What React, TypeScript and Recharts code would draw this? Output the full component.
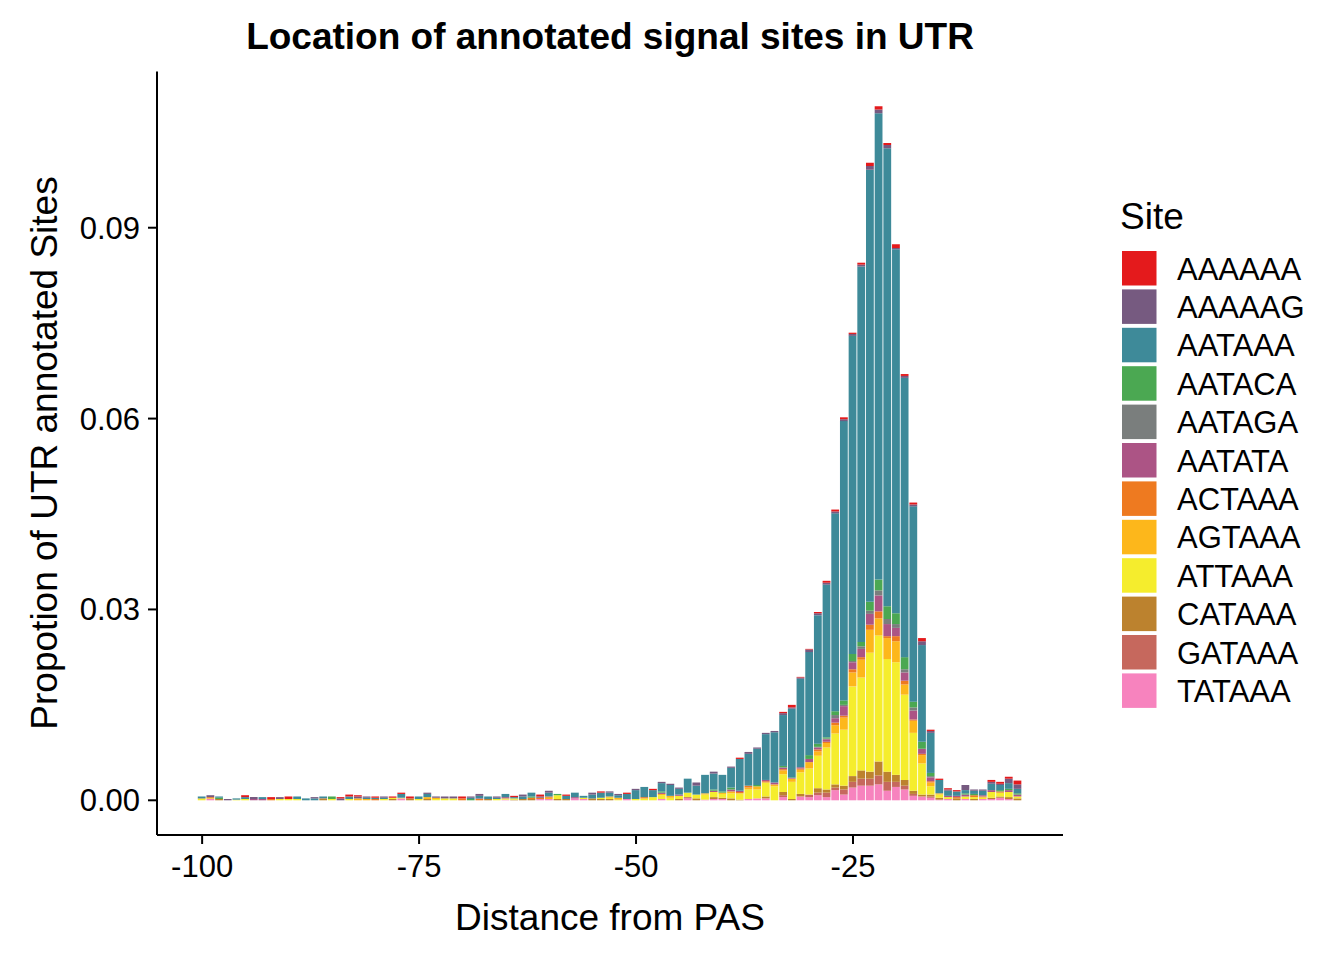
import React from "react";
import { Bar, BarChart, XAxis, YAxis } from "recharts";

// valores, en unidades de 0.0001 (proporción de sitios)
const UNIT = 1e-4;

const DISTANCE = [
  -100, -99, -98, -97, -96, -95, -94, -93, -92, -91,
  -90, -89, -88, -87, -86, -85, -84, -83, -82, -81,
  -80, -79, -78, -77, -76, -75, -74, -73, -72, -71,
  -70, -69, -68, -67, -66, -65, -64, -63, -62, -61,
  -60, -59, -58, -57, -56, -55, -54, -53, -52, -51,
  -50, -49, -48, -47, -46, -45, -44, -43, -42, -41,
  -40, -39, -38, -37, -36, -35, -34, -33, -32, -31,
  -30, -29, -28, -27, -26, -25, -24, -23, -22, -21,
  -20, -19, -18, -17, -16, -15, -14, -13, -12, -11,
  -10, -9, -8, -7, -6,
];

const AAAAAA = [
  0, 0, 0, 0, 0, 3, 0, 0, 3, 0,
  4, 0, 0, 0, 0, 0, 2, 3, 2, 0,
  2, 0, 2, 2, 3, 0, 0, 0, 0, 0,
  3, 0, 0, 0, 0, 0, 2, 0, 0, 3,
  0, 0, 2, 0, 0, 0, 2, 0, 0, 2,
  0, 0, 2, 0, 0, 0, 0, 0, 0, 0,
  0, 0, 2, 0, 0, 0, 0, 2, 4, 1,
  1, 2, 3, 3, 3, 2, 3, 5, 5, 3,
  6, 3, 3, 5, 2, 2, 2, 2, 0, 0,
  0, 3, 3, 3, 6,
];
const AAAAAG = [
  0, 3, 0, 2, 0, 0, 3, 0, 0, 3,
  0, 0, 0, 2, 0, 0, 3, 0, 3, 2,
  0, 2, 0, 0, 0, 0, 2, 2, 3, 3,
  0, 2, 3, 0, 2, 0, 0, 3, 0, 2,
  3, 0, 0, 0, 0, 3, 0, 2, 2, 0,
  2, 0, 0, 2, 2, 2, 0, 5, 0, 3,
  0, 2, 0, 3, 2, 2, 2, 3, 2, 2,
  4, 3, 3, 3, 3, 3, 3, 6, 6, 5,
  2, 3, 3, 6, 3, 0, 2, 0, 8, 2,
  2, 3, 2, 7, 7,
];
const AATAAA = [
  3, 0, 2, 0, 2, 3, 0, 3, 0, 0,
  0, 4, 3, 3, 3, 0, 0, 4, 0, 2,
  2, 2, 0, 6, 0, 4, 5, 0, 0, 0,
  0, 2, 4, 4, 2, 5, 2, 4, 6, 0,
  6, 0, 5, 7, 3, 6, 8, 6, 4, 8,
  14, 16, 11, 13, 17, 9, 22, 14, 29, 25,
  26, 31, 50, 50, 57, 72, 79, 80, 108, 139,
  162, 202, 240, 311, 439, 500, 590, 679, 733, 720,
  572, 439, 307, 152, 63, 21, 8, 7, 5, 5,
  7, 10, 8, 9, 7,
];
const AATACA = [
  0, 0, 2, 0, 0, 0, 0, 0, 0, 0,
  0, 0, 0, 0, 0, 4, 0, 0, 0, 0,
  0, 0, 0, 0, 0, 0, 0, 0, 0, 0,
  0, 2, 0, 0, 0, 0, 0, 0, 2, 0,
  0, 2, 0, 0, 0, 0, 0, 0, 0, 0,
  0, 0, 0, 2, 0, 0, 0, 0, 0, 2,
  2, 3, 0, 0, 2, 0, 0, 2, 1, 0,
  6, 5, 2, 6, 7, 11, 7, 14, 17, 20,
  17, 19, 9, 11, 5, 0, 0, 0, 2, 2,
  0, 0, 2, 2, 2,
];
const AATAGA = [
  0, 0, 0, 0, 0, 0, 0, 0, 0, 0,
  0, 0, 0, 0, 0, 0, 0, 0, 0, 0,
  0, 0, 0, 0, 0, 0, 0, 0, 0, 0,
  0, 0, 0, 0, 0, 0, 0, 0, 0, 0,
  0, 0, 0, 0, 0, 0, 0, 0, 0, 0,
  0, 0, 0, 0, 0, 0, 0, 0, 0, 0,
  0, 0, 0, 0, 0, 0, 0, 1, 0, 0,
  0, 1, 1, 5, 2, 2, 4, 5, 8, 8,
  6, 5, 5, 0, 2, 0, 0, 0, 0, 0,
  0, 0, 0, 0, 0,
];
const AATATA = [
  0, 0, 0, 0, 0, 0, 2, 2, 0, 0,
  0, 0, 0, 0, 0, 0, 0, 0, 0, 0,
  0, 0, 0, 0, 0, 0, 0, 0, 0, 0,
  0, 0, 1, 0, 0, 2, 0, 0, 0, 0,
  0, 0, 0, 2, 0, 0, 0, 0, 0, 0,
  0, 0, 0, 2, 0, 2, 0, 0, 0, 2,
  0, 3, 2, 0, 0, 2, 3, 2, 1, 2,
  5, 3, 4, 7, 15, 11, 13, 17, 25, 19,
  13, 13, 14, 8, 6, 0, 2, 2, 3, 0,
  2, 3, 0, 3, 3,
];
const ACTAAA = [
  0, 2, 0, 0, 0, 0, 0, 0, 2, 0,
  0, 0, 0, 0, 1, 0, 0, 0, 0, 0,
  2, 0, 0, 0, 0, 0, 0, 0, 0, 0,
  3, 0, 2, 0, 0, 0, 0, 0, 2, 2,
  2, 0, 0, 0, 0, 0, 0, 0, 0, 0,
  0, 2, 0, 0, 0, 0, 0, 0, 0, 0,
  0, 0, 2, 3, 0, 2, 0, 2, 0, 2,
  0, 3, 2, 4, 3, 5, 4, 8, 11, 3,
  8, 6, 2, 2, 2, 0, 0, 2, 0, 3,
  0, 0, 2, 0, 0,
];
const AGTAAA = [
  1, 0, 0, 0, 0, 0, 0, 0, 0, 0,
  0, 0, 0, 0, 0, 0, 0, 0, 3, 2,
  0, 0, 0, 0, 0, 0, 3, 2, 0, 0,
  0, 0, 0, 0, 0, 0, 0, 0, 0, 0,
  2, 0, 0, 0, 0, 0, 0, 2, 3, 0,
  0, 0, 0, 2, 3, 0, 0, 0, 2, 0,
  2, 3, 0, 3, 5, 0, 3, 6, 5, 4,
  10, 7, 7, 13, 19, 22, 28, 36, 27, 33,
  33, 16, 19, 13, 6, 2, 0, 0, 0, 0,
  2, 0, 0, 0, 0,
];
const ATTAAA = [
  2, 1, 0, 0, 1, 2, 0, 0, 0, 2,
  2, 2, 0, 0, 0, 2, 0, 2, 0, 0,
  0, 2, 2, 1, 0, 2, 0, 2, 3, 3,
  0, 0, 0, 0, 2, 2, 2, 0, 0, 0,
  0, 6, 0, 0, 2, 0, 2, 2, 1, 0,
  2, 3, 5, 6, 4, 5, 7, 6, 8, 8,
  6, 8, 10, 15, 14, 22, 22, 28, 27, 34,
  41, 51, 66, 80, 88, 141, 146, 187, 198, 177,
  177, 134, 91, 49, 13, 5, 3, 0, 4, 3,
  2, 9, 6, 8, 3,
];
const CATAAA = [
  0, 0, 2, 0, 0, 0, 0, 0, 0, 0,
  0, 0, 0, 0, 2, 0, 0, 0, 0, 0,
  0, 0, 2, 0, 3, 0, 2, 0, 0, 0,
  0, 0, 0, 2, 0, 0, 1, 2, 2, 0,
  0, 2, 2, 0, 0, 3, 2, 2, 0, 0,
  0, 0, 0, 0, 0, 2, 0, 3, 0, 3,
  2, 3, 1, 0, 0, 3, 0, 5, 2, 4,
  0, 7, 5, 5, 6, 9, 13, 11, 22, 16,
  11, 9, 5, 3, 3, 3, 0, 3, 0, 2,
  0, 2, 2, 3, 3,
];
const GATAAA = [
  0, 0, 0, 0, 0, 0, 0, 0, 0, 0,
  0, 0, 0, 0, 0, 0, 0, 0, 0, 0,
  0, 0, 0, 0, 0, 0, 0, 0, 0, 0,
  0, 0, 0, 0, 0, 0, 0, 0, 0, 0,
  0, 0, 0, 0, 0, 0, 0, 0, 0, 0,
  0, 0, 0, 0, 0, 0, 2, 0, 0, 0,
  0, 0, 0, 0, 0, 0, 0, 3, 0, 0,
  4, 4, 7, 4, 8, 9, 11, 11, 14, 14,
  8, 6, 3, 0, 2, 0, 0, 0, 0, 0,
  0, 0, 0, 0, 0,
];
const TATAAA = [
  0, 2, 0, 0, 0, 0, 0, 0, 0, 0,
  0, 0, 0, 0, 0, 0, 0, 0, 0, 0,
  0, 0, 0, 3, 0, 0, 0, 0, 0, 0,
  0, 0, 0, 0, 0, 1, 0, 0, 0, 2,
  2, 0, 0, 3, 2, 0, 0, 0, 0, 2,
  0, 0, 0, 2, 0, 0, 3, 0, 1, 2,
  2, 0, 0, 2, 3, 3, 0, 5, 0, 6,
  5, 8, 5, 16, 9, 20, 23, 23, 25, 15,
  21, 17, 7, 6, 4, 1, 2, 0, 2, 0,
  2, 2, 4, 2, 0,
];

// orden de la leyenda (ggplot apila el primer nivel arriba)
const SITES = ["AAAAAA", "AAAAAG", "AATAAA", "AATACA", "AATAGA", "AATATA",
  "ACTAAA", "AGTAAA", "ATTAAA", "CATAAA", "GATAAA", "TATAAA"];
const VALUES: Record<string, number[]> = {
  AAAAAA, AAAAAG, AATAAA, AATACA, AATAGA, AATATA,
  ACTAAA, AGTAAA, ATTAAA, CATAAA, GATAAA, TATAAA,
};
const COLORS: Record<string, string> = {
  AAAAAA: "#E41A1C", AAAAAG: "#765A80", AATAAA: "#3E8A99", AATACA: "#4BA852",
  AATAGA: "#7A7E7D", AATATA: "#AC5485", ACTAAA: "#EE7A20", AGTAAA: "#FDB71B",
  ATTAAA: "#F5ED2D", CATAAA: "#BC822E", GATAAA: "#C6685D", TATAAA: "#F783BE",
};

const X_TICKS = [-100, -75, -50, -25];
const Y_TICKS = [0, 0.03, 0.06, 0.09];

const FONT = "'Liberation Sans', Arial, Helvetica, sans-serif";
const TICK = { fill: "#000", fontSize: 31, fontFamily: FONT };

export default function App() {
  const rows = DISTANCE.map((d, i) => {
    const r: Record<string, number> = { dist: d };
    SITES.forEach((s) => { r[s] = VALUES[s][i] * UNIT; });
    return r;
  });
  // Recharts apila la primera serie abajo → se dibuja en orden inverso
  const stackOrder = [...SITES].reverse();

  return (
    <div style={{ position: "absolute", left: 0, top: 0, width: 1344, height: 960, background: "#fff" }}>
      <BarChart width={1344} height={960} data={rows}
        margin={{ top: 71.5, right: 281, bottom: 65, left: 0 }}>
        <XAxis dataKey="dist" type="number" domain={[-105.2, -0.8]} allowDataOverflow
          ticks={X_TICKS} interval={0} height={60} tick={TICK}
          tickSize={9} tickMargin={11}
          axisLine={{ stroke: "#000", strokeWidth: 2 }} tickLine={{ stroke: "#000", strokeWidth: 2 }} />
        <YAxis type="number" domain={[-0.005455, 0.114555]} allowDataOverflow
          ticks={Y_TICKS} interval={0} width={157} tick={TICK}
          tickSize={9} tickMargin={8} tickFormatter={(v) => Number(v).toFixed(2)}
          axisLine={{ stroke: "#000", strokeWidth: 2 }} tickLine={{ stroke: "#000", strokeWidth: 2 }} />
        {stackOrder.map((s) => (
          <Bar key={s} dataKey={s} stackId="a" fill={COLORS[s]} barSize={7.8}
            isAnimationActive={false} />
        ))}
      </BarChart>

      <svg width={1344} height={960} style={{ position: "absolute", left: 0, top: 0, pointerEvents: "none" }}
        fontFamily={FONT}>
        <text x={610} y={49} textAnchor="middle" fontSize={37} fontWeight="bold">
          Location of annotated signal sites in UTR
        </text>
        <text x={610} y={930} textAnchor="middle" fontSize={37}>Distance from PAS</text>
        <text transform="translate(57,453) rotate(-90)" textAnchor="middle" fontSize={37}>
          Propotion of UTR annotated Sites
        </text>
        <text x={1120} y={229} fontSize={37}>Site</text>
        {SITES.map((s, i) => (
          <g key={s}>
            <rect x={1122} y={251 + i * 38.4} width={34.5} height={34.5} fill={COLORS[s]} />
            <text x={1177} y={279.5 + i * 38.4} fontSize={31}>{s}</text>
          </g>
        ))}
      </svg>
    </div>
  );
}
